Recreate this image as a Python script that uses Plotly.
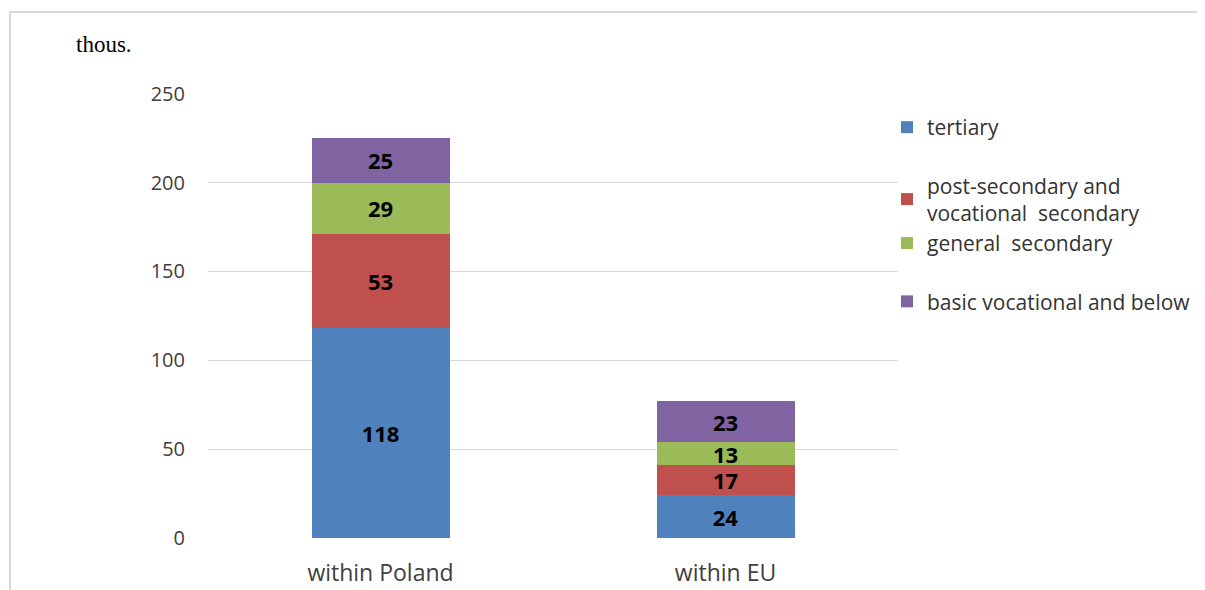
import plotly.graph_objects as go

categories = ["within Poland", "within EU"]
series_names = ["tertiary", "post-secondary and<br>vocational  secondary", "general  secondary", "basic vocational and below"]
tertiary = [118, 24]
post_secondary = [53, 17]
general_secondary = [29, 13]
basic_vocational = [25, 23]
y_ticks = [0, 50, 100, 150, 200, 250]

colors = ["#4F81BD", "#C0504D", "#9BBB59", "#8064A2"]
groups = ["a", "b", "b", "c"]
values = [tertiary, post_secondary, general_secondary, basic_vocational]

OFF = 8  # page body margin
W, H = 1205 - OFF, 590 - OFF
L, T = 208 - OFF, 93 - OFF
pw, ph = 690, 445
R = W - L - pw
B = H - T - ph

FONT = "Open Sans, Noto Sans, sans-serif"

fig = go.Figure()
for name, vals, col, grp in zip(series_names, values, colors, groups):
    fig.add_trace(go.Bar(
        x=categories, y=vals, name=name, marker_color=col,
        marker_line_width=0, legendgroup=grp,
        text=vals, texttemplate="<b>%{text}</b>", textposition="inside",
        insidetextanchor="middle", textangle=0,
        textfont=dict(family=FONT, size=22, color="black"),
    ))

def px_x(p):
    return (p - OFF - L) / pw

def px_y(p):
    return (T + ph - (p - OFF)) / ph

fig.update_layout(
    width=W, height=H,
    margin=dict(l=L, r=R, t=T, b=B, autoexpand=False),
    barmode="stack", bargap=0.6,
    plot_bgcolor="white", paper_bgcolor="white",
    font=dict(family=FONT, size=21, color="#404040"),
    uniformtext=dict(minsize=20, mode="show"),
    showlegend=True,
    legend=dict(
        x=px_x(887), y=px_y(107), xanchor="left", yanchor="top",
        traceorder="grouped", tracegroupgap=28,
        font=dict(family=FONT, size=21, color="#333333"),
        itemwidth=30, bgcolor="rgba(0,0,0,0)",
    ),
    xaxis=dict(showgrid=False, showline=False, ticks="", ticklabelstandoff=19,
               automargin=False,
               tickfont=dict(family=FONT, size=23, color="#404040")),
    yaxis=dict(range=[0, 250.4], tickvals=y_ticks, showgrid=True, gridcolor="#D9D9D9",
               gridwidth=1, zeroline=False, showline=False, ticks="",
               automargin=False,
               ticklabelstandoff=22, tickfont=dict(family=FONT, size=20, color="#404040")),
    shapes=[
        dict(type="line", xref="paper", yref="paper", x0=px_x(10), x1=px_x(1210),
             y0=px_y(12), y1=px_y(12), line=dict(color="#D9D9D9", width=2)),
        dict(type="line", xref="paper", yref="paper", x0=px_x(10), x1=px_x(10),
             y0=px_y(12), y1=px_y(600), line=dict(color="#D9D9D9", width=2)),
    ],
    annotations=[
        dict(text="thous.", xref="paper", yref="paper", x=px_x(74), y=px_y(45),
             xanchor="left", yanchor="middle", showarrow=False,
             font=dict(family="Liberation Serif, Times New Roman, serif", size=23, color="black")),
    ],
)

fig.write_html("out.html")
